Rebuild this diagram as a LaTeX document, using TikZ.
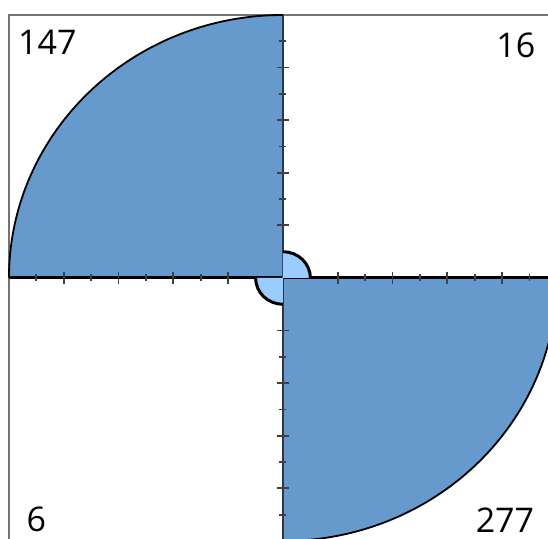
\documentclass[tikz,border=0pt]{standalone}
\usepackage{fontspec}
\setmainfont{Open Sans}
\definecolor{bigblue}{RGB}{102,153,204}
\definecolor{smallblue}{RGB}{153,204,255}
\definecolor{axisgray}{RGB}{45,55,70}
\begin{document}
\begin{tikzpicture}[
  x=27.4pt,y=26.3pt,
  font=\fontsize{34}{40}\selectfont,
  bigfill/.style={fill=bigblue},
  bigrim/.style={draw=black,line width=1.8pt},
  smallfill/.style={fill=smallblue},
  smallrim/.style={draw=black,line width=3pt},
  frame/.style={draw=black!55,line width=1.6pt},
  haxis/.style={draw=black,line width=3pt},
  vaxis/.style={draw=axisgray,line width=1.5pt},
  tickmark/.style={draw=black!75,line width=1.8pt},
  lab/.style={inner sep=0pt}
]
\useasboundingbox (-10.328,-9.924) rectangle (9.672,10.570);
\clip (-10.328,-9.924) rectangle (9.672,10.570);
% big quarters
\fill[bigfill] (0,0) -- (-10,0) arc[start angle=180,end angle=90,radius=10] -- cycle;
\fill[bigfill] (0,0) -- (0,-10) arc[start angle=270,end angle=360,radius=10] -- cycle;
% frame
\draw[frame] (9.8,10) -- (-10,10) -- (-10,-10);
% axes and ticks
\draw[haxis] (-10,0) -- (9.8,0);
\draw[vaxis] (0,10) -- (0,-10);
\foreach \k in {2,4,6,8} {
  \draw[tickmark] (\k,0) ++(0,-6pt) -- ++(0,12pt);
  \draw[tickmark] (-\k,0) ++(0,-6pt) -- ++(0,12pt);
  \draw[tickmark] (0,\k) ++(-6pt,0) -- ++(12pt,0);
  \draw[tickmark] (0,-\k) ++(-6pt,0) -- ++(12pt,0);
}
\foreach \k in {3,5,7,9} {
  \draw[tickmark] (\k,0) ++(0,-3.5pt) -- ++(0,7pt);
  \draw[tickmark] (-\k,0) ++(0,-3.5pt) -- ++(0,7pt);
  \draw[tickmark] (0,\k) ++(-3.5pt,0) -- ++(7pt,0);
  \draw[tickmark] (0,-\k) ++(-3.5pt,0) -- ++(7pt,0);
}
% arcs
\draw[bigrim] (-10,0) arc[start angle=180,end angle=90,radius=10];
\draw[bigrim] (0,-10) arc[start angle=270,end angle=360,radius=10];
\fill[smallfill] (0,0) -- (0,1) arc[start angle=90,end angle=0,radius=1] -- cycle;
\fill[smallfill] (0,0) -- (-1,0) arc[start angle=180,end angle=270,radius=1] -- cycle;
\draw[smallrim] (0,1) arc[start angle=90,end angle=0,radius=1];
\draw[smallrim] (-1,0) arc[start angle=180,end angle=270,radius=1];
% labels
\node[lab] (n147) at (-8.6,8.95) {147};
\node[lab] (n16) at (8.5,8.86) {16};
\node[lab] (n6) at (-9.0,-9.16) {6};
\node[lab] (n277) at (8.1,-9.2) {277};
\end{tikzpicture}
\end{document}
